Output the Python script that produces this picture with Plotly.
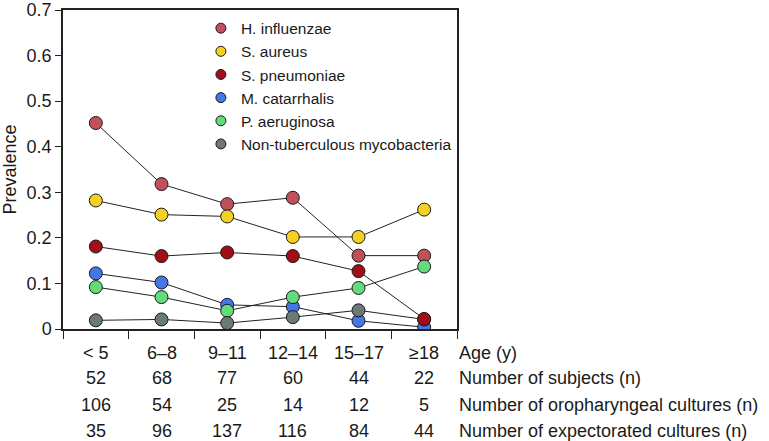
import plotly.graph_objects as go

# Age groups (x categories)
ages = ["< 5", "6\u20138", "9\u201311", "12\u201314", "15\u201317", "\u226518"]

# Prevalence per organism
species = ["H. influenzae", "S. aureus", "S. pneumoniae", "M. catarrhalis",
           "P. aeruginosa", "Non-tuberculous mycobacteria"]
h_influenzae = [0.452, 0.318, 0.274, 0.288, 0.161, 0.161]
s_aureus = [0.282, 0.251, 0.247, 0.202, 0.202, 0.262]
s_pneumoniae = [0.181, 0.160, 0.168, 0.160, 0.127, 0.022]
m_catarrhalis = [0.122, 0.102, 0.053, 0.049, 0.018, 0.004]
p_aeruginosa = [0.092, 0.070, 0.040, 0.070, 0.090, 0.137]
ntm = [0.019, 0.021, 0.013, 0.026, 0.041, 0.021]

# Table rows under the chart
n_subjects = [52, 68, 77, 60, 44, 22]
n_oropharyngeal = [106, 54, 25, 14, 12, 5]
n_expectorated = [35, 96, 137, 116, 84, 44]
row_labels = ["Age (y)", "Number of subjects (n)",
              "Number of oropharyngeal cultures (n)",
              "Number of expectorated cultures (n)"]

colors = ["#C2505C", "#F3D11E", "#A10E18", "#4676E6", "#64DB7B", "#6C7A77"]
series = [h_influenzae, s_aureus, s_pneumoniae, m_catarrhalis, p_aeruginosa, ntm]

FONT = "Liberation Sans, Arial, Helvetica, sans-serif"
TXT = "#1a1a1a"

fig = go.Figure()

# connecting lines
for vals in series:
    fig.add_trace(go.Scatter(x=ages, y=vals, mode="lines",
                             line=dict(color="#222222", width=1),
                             showlegend=False, hoverinfo="skip"))

# markers (S. pneumoniae drawn last so it sits on top, as in the original)
draw_order = [0, 1, 3, 4, 5, 2]
for i in draw_order:
    fig.add_trace(go.Scatter(x=ages, y=series[i], mode="markers", name=species[i],
                             marker=dict(size=13, color=colors[i],
                                         line=dict(color="#1a1a1a", width=1)),
                             showlegend=False))

# legend-only entries (smaller dots, no line)
for i, (name, c) in enumerate(zip(species, colors)):
    fig.add_trace(go.Scatter(x=[None], y=[None], mode="markers", name=name,
                             legendgroup=str(i),
                             marker=dict(size=10, color=c,
                                         line=dict(color="#1a1a1a", width=1))))

# table under the plot
W, H = 769, 441
plot_top, plot_bot = 10, 329
row_px = [353, 378, 405, 431]
row_y = [(plot_bot - p) / (plot_bot - plot_top) for p in row_px]
rows = [ages, n_subjects, n_oropharyngeal, n_expectorated]

for ry, row in zip(row_y, rows):
    for a, v in zip(ages, row):
        fig.add_annotation(x=a, y=ry, xref="x", yref="paper", text=str(v),
                           showarrow=False, xanchor="center", yanchor="middle",
                           font=dict(size=18, color=TXT, family=FONT))
for ry, lab in zip(row_y, row_labels):
    fig.add_annotation(x=1.0, y=ry, xref="paper", yref="paper", text=lab,
                       showarrow=False, xanchor="left", yanchor="middle",
                       font=dict(size=18, color=TXT, family=FONT))

fig.update_layout(
    width=W, height=H,
    margin=dict(l=63, r=312, t=10, b=112, autoexpand=False),
    paper_bgcolor="white", plot_bgcolor="white",
    font=dict(family=FONT, color=TXT),
    legend=dict(x=0.35, y=0.995, xanchor="left", yanchor="top",
                bgcolor="rgba(0,0,0,0)", font=dict(size=15.5, color=TXT, family=FONT),
                traceorder="grouped", tracegroupgap=0),
)
fig.update_xaxes(type="category", categoryorder="array", categoryarray=ages,
                 range=[-0.5, 5.5], showticklabels=False, showgrid=False,
                 zeroline=False, showline=True, linecolor="#222222", linewidth=1.5,
                 mirror=True, ticks="outside", tickson="boundaries", ticklen=8,
                 tickcolor="#222222", tickwidth=1.2, automargin=False)
fig.update_yaxes(range=[0, 0.7], tickvals=[0, 0.1, 0.2, 0.3, 0.4, 0.5, 0.6, 0.7],
                 ticktext=["0", "0.1", "0.2", "0.3", "0.4", "0.5", "0.6", "0.7"],
                 showgrid=False, zeroline=False, showline=True,
                 linecolor="#222222", linewidth=1.5, mirror=True,
                 ticks="outside", ticklen=6, tickcolor="#222222", tickwidth=1.2,
                 tickfont=dict(size=18, color=TXT, family=FONT), automargin=False,
                 title=dict(text="Prevalence", font=dict(size=18, color=TXT, family=FONT),
                            standoff=6))

# drop the browser's default 8px body margin so the figure fills the window
fig.write_html("out.html", config={"displayModeBar": False},
               post_script="document.body.style.margin='0px';")
